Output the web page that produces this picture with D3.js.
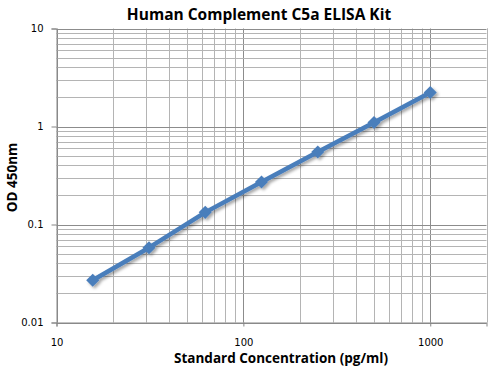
<!DOCTYPE html>
<html>
<head>
<meta charset="utf-8">
<script src="https://cdn.jsdelivr.net/npm/d3@7"></script>
<style>
  body{margin:0;background:#fff;}
  svg{display:block;}
</style>
</head>
<body>
<div id="chart"></div>
<script>
const concentrations = [15.625, 31.25, 62.5, 125, 250, 500, 1000];
const odValues = [0.027, 0.058, 0.133, 0.272, 0.55, 1.1, 2.22];
const xTicks = [10, 100, 1000];
const yTicks = [0.01, 0.1, 1, 10];

const W = 495, H = 375;
const M = {top: 28.5, right: 8.5, bottom: 52.5, left: 56.5};

const svg = d3.select('#chart').append('svg').attr('width', W).attr('height', H);
const defs = svg.append('defs');
const shadow = defs.append('filter').attr('id','shadow').attr('x','-20%').attr('y','-20%').attr('width','140%').attr('height','140%');
shadow.append('feDropShadow').attr('dx',2).attr('dy',2).attr('stdDeviation',1.5)
  .attr('flood-color','#000').attr('flood-opacity',0.35);

const x = d3.scaleLog().domain([10, 2000]).range([M.left, W - M.right]);
const y = d3.scaleLog().domain([0.01, 10]).range([H - M.bottom, M.top]);

// minor + major grid
const xGrid = [];
for (let d = 10; d <= 1000; d *= 10) for (let k = 1; k <= 9; k++) if (d*k <= 2000) xGrid.push(d*k);
xGrid.push(2000);
const yGrid = [];
for (let d = 0.01; d < 10; d *= 10) for (let k = 1; k <= 9; k++) yGrid.push(+(d*k).toPrecision(3));
yGrid.push(10);

const grid = svg.append('g');
grid.selectAll('line.gx').data(xGrid).join('line')
  .attr('x1', d => Math.round(x(d)) + 0.5).attr('x2', d => Math.round(x(d)) + 0.5)
  .attr('y1', y(10)).attr('y2', y(0.01))
  .attr('stroke', d => xTicks.includes(d) ? '#8c8c8c' : '#b4b4b4').attr('stroke-width', 1);
grid.selectAll('line.gy').data(yGrid).join('line')
  .attr('y1', d => Math.round(y(d)) + 0.5).attr('y2', d => Math.round(y(d)) + 0.5)
  .attr('x1', x(10)).attr('x2', x(2000))
  .attr('stroke', d => yTicks.includes(d) ? '#8c8c8c' : '#b4b4b4').attr('stroke-width', 1);

// axes
const xAxis = svg.append('g').attr('transform', `translate(0,${y(0.01)})`)
  .call(d3.axisBottom(x).tickValues(xTicks).tickFormat(d3.format('d')).tickSize(4).tickPadding(12));
const yAxis = svg.append('g').attr('transform', `translate(${x(10)},0)`)
  .call(d3.axisLeft(y).tickValues(yTicks).tickFormat(d => String(d)).tickSize(5).tickPadding(8));
[xAxis, yAxis].forEach(a => {
  a.select('.domain').attr('stroke', '#868686');
  a.selectAll('.tick line').attr('stroke', '#868686');
  a.selectAll('text').attr('fill', '#000').attr('font-family', 'DejaVu Sans, Verdana, sans-serif').attr('font-size', '10px');
});

// series
const pts = concentrations.map((c, i) => [c, odValues[i]]);
const series = svg.append('g').attr('filter', 'url(#shadow)');
series.append('path').datum(pts)
  .attr('d', d3.line().x(d => x(d[0])).y(d => y(d[1])))
  .attr('fill', 'none').attr('stroke', '#4a7ebb').attr('stroke-width', 4.5).attr('stroke-linejoin', 'round');
// square rotated 45deg, like the office-style diamond marker
series.selectAll('path.m').data(pts).join('path')
  .attr('transform', d => `translate(${x(d[0])},${y(d[1])}) rotate(45)`)
  .attr('d', d3.symbol().type(d3.symbolSquare).size(85))
  .attr('fill', '#4a7ebb');

// labels
svg.append('text').attr('x', 259).attr('y', 20).attr('text-anchor', 'middle')
  .attr('font-family', 'Open Sans, sans-serif').attr('font-weight', 700).attr('font-size', '15.5px')
  .text('Human Complement C5a ELISA Kit');
svg.append('text').attr('x', 281).attr('y', 363).attr('text-anchor', 'middle')
  .attr('font-family', 'Open Sans, sans-serif').attr('font-weight', 700).attr('font-size', '13.5px')
  .text('Standard Concentration (pg/ml)');
svg.append('text').attr('transform', `translate(17,${(y(10) + y(0.01)) / 2 + 2}) rotate(-90)`)
  .attr('text-anchor', 'middle')
  .attr('font-family', 'Open Sans, sans-serif').attr('font-weight', 700).attr('font-size', '13.5px')
  .text('OD 450nm');
</script>
</body>
</html>
